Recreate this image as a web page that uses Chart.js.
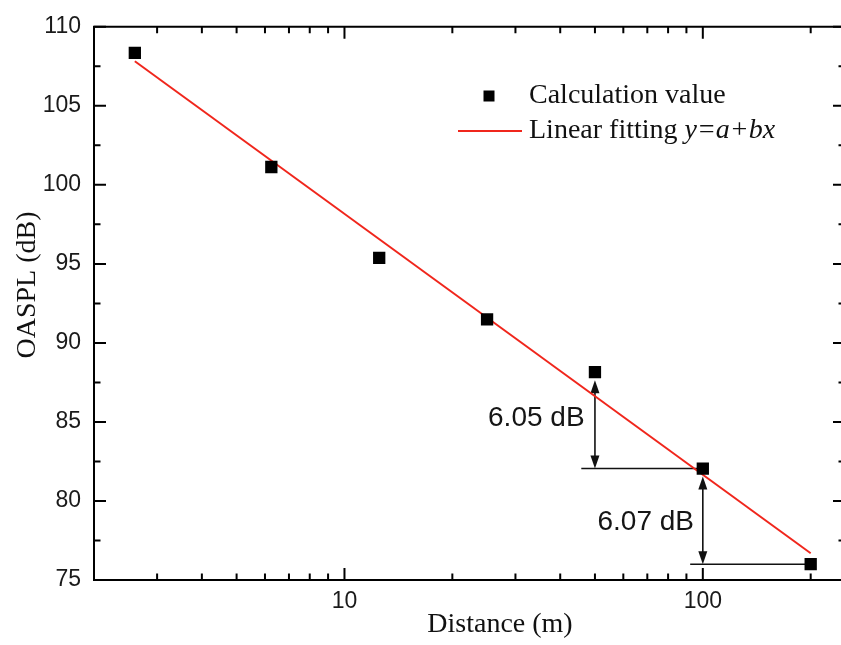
<!DOCTYPE html>
<html>
<head>
<meta charset="utf-8">
<script src="https://cdn.jsdelivr.net/npm/chart.js@4.4.1/dist/chart.umd.min.js"></script>
<style>
  html, body { margin: 0; padding: 0; background: #ffffff; }
  #wrap { width: 841px; height: 645px; position: relative; }
</style>
</head>
<body>
<div id="wrap"><canvas id="c" width="841" height="645"></canvas></div>
<script>
// ---- data ----
const distance = [2.6, 6.25, 12.5, 25, 50, 100, 200];
const oaspl = [108.35, 101.13, 95.38, 91.49, 88.15, 82.05, 76.0];
const fitX = [2.6, 200];
const fitY = [107.82, 76.69];
const xMajorTicks = [10, 100];
const xMinorTicks = [3, 4, 5, 6, 7, 8, 9, 20, 30, 40, 50, 60, 70, 80, 90, 200];
const yMajorTicks = [75, 80, 85, 90, 95, 100, 105, 110];
const yMinorTicks = [77.5, 82.5, 87.5, 92.5, 97.5, 102.5, 107.5];
const xRange = [2, 243];
const yRange = [75, 110];
const seriesNames = ['Calculation value', 'Linear fitting '];
const fitFormula = 'y=a+bx';
const xTitle = 'Distance (m)';
const yTitle = 'OASPL (dB)';
// dimension annotations (data coordinates)
const dimArrowX = [50, 100];
const dimArrowFrom = [88.15, 82.05];
const dimArrowTo = [82.05, 76.0];
const dimLineY = [82.05, 76.0];
const dimLineFrom = [45.8, 92.2];
const dimLineTo = [100, 200];
const dimLabelText = ['6.05 dB', '6.07 dB'];
const dimLabelX = [34.3, 69.3];
const dimLabelY = [85.22, 78.63];

const sansFont = '"Liberation Sans", Arial, sans-serif';
const serifFont = '"Liberation Serif", "Times New Roman", serif';
const RED = 'rgb(240,38,28)';

function arrowHead(ctx, x, y, dir) {
  // dir: -1 tip pointing up, +1 tip pointing down
  ctx.beginPath();
  ctx.moveTo(x, y);
  ctx.lineTo(x - 4.5, y - dir * 13);
  ctx.lineTo(x + 4.5, y - dir * 13);
  ctx.closePath();
  ctx.fill();
}

const decorPlugin = {
  id: 'decor',
  beforeDatasetsDraw(chart) {
    const ctx = chart.ctx;
    const xs = chart.scales.x, ys = chart.scales.y;
    ctx.save();
    ctx.strokeStyle = '#111';
    ctx.fillStyle = '#111';
    ctx.lineWidth = 1.6;
    for (let i = 0; i < dimLineY.length; i++) {
      const py = ys.getPixelForValue(dimLineY[i]);
      ctx.beginPath();
      ctx.moveTo(xs.getPixelForValue(dimLineFrom[i]), py);
      ctx.lineTo(xs.getPixelForValue(dimLineTo[i]), py);
      ctx.stroke();
    }
    for (let i = 0; i < dimArrowX.length; i++) {
      const px = xs.getPixelForValue(dimArrowX[i]);
      const pTop = ys.getPixelForValue(dimArrowFrom[i]) + 8;
      const pBot = ys.getPixelForValue(dimArrowTo[i]);
      ctx.beginPath();
      ctx.moveTo(px, pTop + 6);
      ctx.lineTo(px, pBot - 6);
      ctx.stroke();
      arrowHead(ctx, px, pTop, -1);
      arrowHead(ctx, px, pBot, 1);
    }
    ctx.font = '28px ' + sansFont;
    ctx.textAlign = 'center';
    ctx.textBaseline = 'middle';
    ctx.fillStyle = '#151515';
    for (let i = 0; i < dimLabelText.length; i++) {
      ctx.fillText(dimLabelText[i], xs.getPixelForValue(dimLabelX[i]), ys.getPixelForValue(dimLabelY[i]));
    }
    ctx.restore();
  },
  afterDraw(chart) {
    const ctx = chart.ctx;
    const a = chart.chartArea;
    const xs = chart.scales.x, ys = chart.scales.y;
    ctx.save();
    ctx.strokeStyle = '#000';
    ctx.lineWidth = 2;
    const L = a.left, T = a.top, B = a.bottom, R = a.right + 4;
    // frame
    ctx.beginPath();
    ctx.moveTo(R, T); ctx.lineTo(L, T); ctx.lineTo(L, B); ctx.lineTo(R, B);
    ctx.stroke();
    const major = 12, minor = 6.5;
    // x ticks (bottom & top, inward)
    const xt = [...xMajorTicks.map(v => [v, major]), ...xMinorTicks.map(v => [v, minor])];
    xt.forEach(([v, len]) => {
      const px = xs.getPixelForValue(v);
      ctx.beginPath();
      ctx.moveTo(px, B); ctx.lineTo(px, B - len);
      ctx.moveTo(px, T); ctx.lineTo(px, T + len);
      ctx.stroke();
    });
    const yt = [...yMajorTicks.map(v => [v, major]), ...yMinorTicks.map(v => [v, minor])];
    yt.forEach(([v, len]) => {
      const py = ys.getPixelForValue(v);
      ctx.beginPath();
      ctx.moveTo(L, py); ctx.lineTo(L + len, py);
      ctx.moveTo(R, py); ctx.lineTo(R - len, py);
      ctx.stroke();
    });
    // axis titles
    ctx.fillStyle = '#111';
    ctx.font = '28px ' + serifFont;
    ctx.textAlign = 'center';
    ctx.textBaseline = 'middle';
    ctx.fillText(xTitle, 500, 625);
    ctx.save();
    ctx.translate(28, 285);
    ctx.rotate(-Math.PI / 2);
    ctx.fillText(yTitle, 0, 0);
    ctx.restore();
    // legend
    ctx.textAlign = 'left';
    ctx.fillStyle = '#000';
    ctx.fillRect(489 - 5.5, 96 - 5.5, 11, 11);
    ctx.fillStyle = '#111';
    ctx.fillText(seriesNames[0], 529, 96);
    ctx.strokeStyle = RED;
    ctx.lineWidth = 1.8;
    ctx.beginPath();
    ctx.moveTo(458, 131); ctx.lineTo(522, 131);
    ctx.stroke();
    ctx.fillText(seriesNames[1], 529, 131);
    const w = ctx.measureText(seriesNames[1]).width;
    ctx.font = 'italic 28px ' + serifFont;
    ctx.fillText(fitFormula, 529 + w, 131);
    ctx.restore();
  }
};

new Chart(document.getElementById('c'), {
  data: {
    datasets: [
      {
        type: 'scatter',
        label: seriesNames[0],
        data: distance.map((d, i) => ({ x: d, y: oaspl[i] })),
        pointStyle: 'rect',
        pointRadius: 8.7,
        pointBackgroundColor: '#000',
        pointBorderColor: '#000',
        pointBorderWidth: 0,
        order: 1
      },
      {
        type: 'line',
        label: seriesNames[1] + fitFormula,
        data: fitX.map((d, i) => ({ x: d, y: fitY[i] })),
        borderColor: RED,
        borderWidth: 2,
        pointRadius: 0,
        fill: false,
        order: 2
      }
    ]
  },
  options: {
    responsive: false,
    animation: false,
    events: [],
    layout: { autoPadding: false, padding: { top: 22, right: 0, left: 0, bottom: 0 } },
    plugins: { legend: { display: false }, tooltip: { enabled: false } },
    scales: {
      x: {
        type: 'logarithmic',
        min: xRange[0],
        max: xRange[1],
        afterBuildTicks: (s) => { s.ticks = xMajorTicks.map(v => ({ value: v, major: true })); },
        afterFit: (s) => { s.height = 65; },
        grid: { display: false, drawTicks: false },
        border: { display: false },
        ticks: {
          autoSkip: false, maxRotation: 0, padding: 8,
          color: '#1a1a1a',
          font: { family: sansFont, size: 23 },
          callback: (v) => String(v)
        }
      },
      y: {
        type: 'linear',
        min: yRange[0],
        max: yRange[1],
        afterBuildTicks: (s) => { s.ticks = yMajorTicks.map(v => ({ value: v })); },
        afterFit: (s) => { s.width = 94; },
        grid: { display: false, drawTicks: false },
        border: { display: false },
        ticks: {
          padding: 13,
          color: '#1a1a1a',
          font: { family: sansFont, size: 23 }
        }
      }
    }
  },
  plugins: [decorPlugin]
});
</script>
</body>
</html>
